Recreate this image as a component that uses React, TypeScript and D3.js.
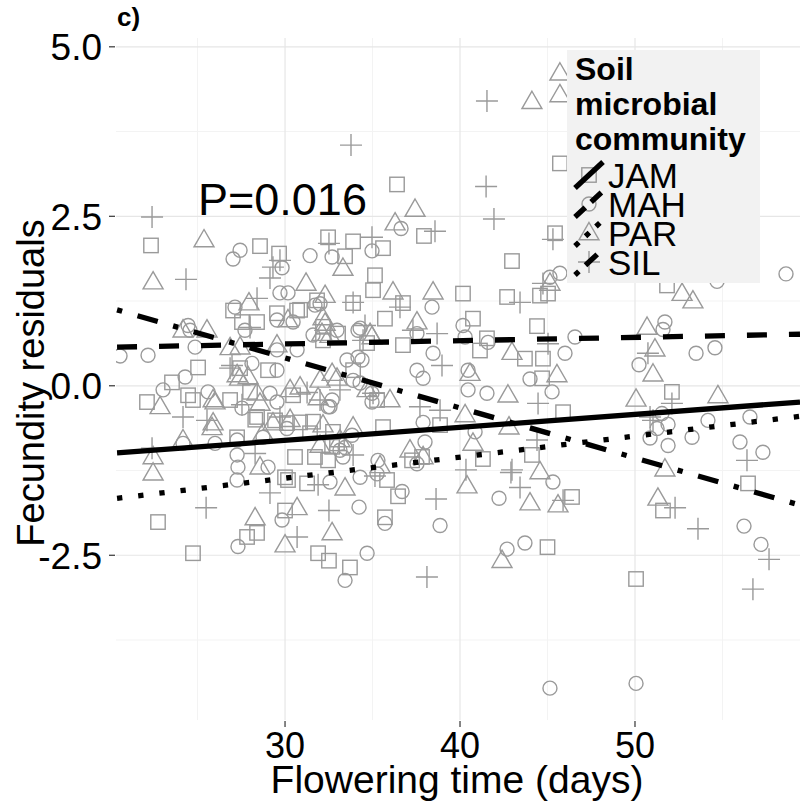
import React from 'react';
import * as d3 from 'd3';

type Pt = [number, number];

const groups = ['JAM', 'MAH', 'PAR', 'SIL'];

const jamPoints: Pt[] = [[22.34,2.07],[28.57,2.06],[29.66,1.95],[27.03,1.11],[30.69,1.11],[36.4,2.97],[45.71,3.28],[37.94,2.21],[35.6,2.03],[42.97,1.84],[45.43,2.25],[22.11,-0.24],[23.54,0.05],[24.74,-0.21],[22.74,-2.01],[24.74,-2.47],[27.26,-0.76],[30.0,-1.35],[30.17,-1.39],[30.0,-1.84],[28.4,-2.17],[27.83,-2.23],[28.4,-0.46],[35.14,1.63],[35.03,1.41],[31.83,1.26],[33.89,1.22],[29.54,1.07],[30.86,1.12],[32.17,0.87],[33.03,0.77],[34.69,0.63],[27.54,0.94],[28.4,0.94],[25.03,0.27],[27.43,0.26],[28.3,-0.5],[30.86,-0.54],[30.11,-0.55],[32.17,0.67],[33.89,0.23],[31.6,-0.53],[31.43,-0.7],[32.97,-0.85],[24.46,-0.14],[32.69,-0.9],[32.46,2.19],[33.89,2.13],[33.43,1.91],[36.74,1.22],[40.17,1.36],[35.71,0.99],[40.74,0.99],[36.74,0.6],[41.14,0.52],[41.54,0.7],[42.69,1.31],[44.57,1.33],[45.03,1.36],[51.83,1.48],[44.4,0.88],[43.71,0.4],[44.74,0.4],[44.69,0.11],[45.89,-0.39],[52.11,-0.09],[44.11,-1.02],[46.4,-1.64],[51.6,-1.84],[56.46,-1.44],[50.06,-2.85],[45.0,-2.38],[31.26,-1.44],[35.83,-1.39],[36.46,-1.63],[35.71,-1.94],[31.89,-2.47],[32.51,-2.58],[33.71,-2.68],[41.31,-1.08],[38.86,-0.58],[37.26,-1.1],[37.83,-1.05],[35.6,-0.61],[31.71,-1.05],[32.46,-1.1],[32.74,-0.68],[35.26,-0.21],[29.03,0.23],[30.46,-0.14],[29.43,-0.51],[28.0,-0.09],[26.86,-0.21],[30.57,-1.05]];

const mahPoints: Pt[] = [[27.43,2.0],[27.03,1.87],[29.83,1.74],[29.71,1.37],[30.17,1.37],[27.14,1.16],[24.46,0.89],[24.86,0.57],[22.17,0.45],[20.57,0.44],[36.63,2.32],[45.14,1.6],[23.03,-0.06],[24.29,0.13],[25.6,-0.09],[24.17,-0.85],[26.0,-0.85],[27.26,-1.02],[27.31,-1.2],[27.26,-1.39],[28.74,-0.76],[29.03,-1.2],[29.83,-1.98],[27.31,-2.37],[28.11,0.33],[27.54,-0.33],[32.0,1.21],[29.54,0.97],[30.46,0.94],[31.6,0.75],[32.97,0.82],[34.17,0.82],[24.57,0.82],[27.71,0.82],[29.54,0.53],[30.69,0.53],[29.54,0.23],[29.14,-0.11],[29.54,-0.24],[32.69,-0.21],[32.57,-0.31],[34.29,0.04],[33.89,0.08],[34.97,-0.24],[34.17,0.42],[34.4,0.38],[33.54,0.38],[27.26,-0.8],[30.11,-0.63],[33.14,-0.95],[31.43,1.92],[32.69,1.9],[34.97,1.99],[31.71,1.19],[38.4,1.16],[40.17,0.89],[40.29,0.72],[37.54,0.77],[34.29,0.85],[38.46,0.48],[41.6,0.64],[45.71,1.66],[54.69,1.54],[46.57,0.72],[51.71,0.94],[51.6,0.83],[46.0,0.48],[53.49,0.48],[54.57,0.56],[50.23,0.31],[44.0,0.1],[45.26,-0.09],[51.54,-0.41],[51.89,-0.57],[51.26,-0.63],[54.17,-0.51],[56.57,-0.46],[50.86,-0.77],[51.89,-0.88],[53.26,-0.76],[56.0,-0.83],[57.31,-0.98],[45.31,-1.42],[56.23,-2.07],[57.2,-2.34],[50.06,-4.39],[45.14,-4.46],[32.57,-1.42],[34.29,-1.35],[35.26,-1.3],[36.69,-1.56],[34.23,-1.79],[35.71,-2.03],[38.86,-2.06],[34.69,-2.47],[33.43,-2.87],[42.23,-1.66],[42.69,-2.41],[43.71,-2.32],[40.86,-0.68],[40.46,-0.06],[41.54,-0.11],[40.46,0.23],[37.89,-0.54],[38.0,-0.83],[37.54,-1.15],[35.31,-1.1],[33.31,-1.05],[33.43,-0.91],[33.83,-0.73],[32.46,-0.31],[34.97,-0.11],[37.89,0.11],[37.54,0.23],[58.63,1.65]];

const parPoints: Pt[] = [[45.71,4.61],[45.71,4.29],[44.11,4.19],[37.43,2.6],[36.29,2.4],[25.37,2.15],[22.46,1.53],[27.94,1.22],[30.17,0.97],[24.17,0.82],[25.54,0.82],[22.86,-0.31],[26.0,-0.24],[25.83,-0.62],[24.17,-0.8],[22.46,-1.05],[22.46,-1.29],[27.4,0.11],[28.57,-0.26],[28.57,-1.2],[30.69,-1.8],[28.29,-1.95],[30.0,-2.35],[33.31,1.73],[31.2,1.51],[32.29,1.33],[32.17,1.0],[34.97,0.72],[26.86,0.56],[27.43,0.57],[29.54,0.6],[25.89,-0.21],[27.26,0.16],[27.89,0.13],[28.4,-0.11],[29.31,-0.55],[30.29,-0.5],[30.86,-0.02],[30.29,-0.06],[32.0,0.08],[32.69,0.18],[32.97,0.11],[31.89,-0.18],[34.69,-0.06],[33.89,-0.61],[32.17,-0.58],[33.14,-0.8],[28.74,-0.7],[25.89,-0.55],[32.0,-0.88],[36.17,1.38],[38.46,1.38],[32.29,0.92],[32.11,0.77],[32.57,0.74],[37.54,0.94],[34.86,0.77],[45.14,1.51],[52.69,1.36],[53.31,1.25],[50.69,0.86],[42.97,0.49],[51.14,0.54],[51.03,0.17],[45.54,0.16],[42.74,-0.14],[50.06,-0.2],[54.74,-0.15],[42.8,-0.61],[44.57,-1.27],[51.71,-1.23],[45.6,-1.76],[51.31,-1.66],[33.43,-1.51],[35.43,-1.18],[32.69,-2.17],[40.4,-1.48],[42.4,-2.58],[40.74,-0.85],[40.29,-0.43],[40.57,0.18],[37.14,-0.95],[37.89,-1.05],[36.0,-0.21],[44.0,-1.73]];

const silPoints: Pt[] = [[41.54,4.2],[33.77,3.55],[41.49,2.94],[41.94,2.46],[38.57,2.28],[45.31,2.16],[22.4,2.49],[24.34,1.57],[29.71,1.85],[29.14,1.59],[28.4,1.29],[25.54,-0.51],[22.4,-0.92],[25.49,-1.8],[28.29,-1.0],[29.14,-1.58],[30.69,-2.23],[26.97,0.3],[29.31,1.75],[33.89,1.23],[28.0,0.86],[26.86,0.26],[31.26,-0.1],[27.54,-0.28],[29.71,-0.46],[32.0,-0.21],[35.03,-0.11],[34.46,0.67],[24.17,-0.46],[32.51,2.1],[34.97,2.19],[36.57,1.16],[34.57,0.89],[37.31,0.82],[38.69,0.77],[43.43,1.23],[44.74,1.51],[45.03,0.62],[50.74,0.48],[44.46,-0.26],[50.86,-0.46],[52.11,-0.26],[56.4,-1.1],[44.4,-0.8],[42.97,-1.24],[45.89,-1.69],[52.29,-1.8],[53.6,-2.11],[57.66,-2.56],[56.74,-3.0],[31.89,-1.46],[35.14,-1.33],[32.51,-1.84],[38.63,-1.67],[38.11,-2.82],[40.34,-1.24],[42.91,-1.28],[43.43,-1.5],[33.89,-1.02],[33.14,-0.06],[38.97,0.3],[37.71,-0.31],[38.86,-0.36],[51.03,-0.51]];

// fitted trend lines: values at the two ends of the x range
const trendX = [20.4, 59.43];
const jamTrend = [-0.99, -0.24];
const mahTrend = [0.57, 0.76];
const parTrend = [-1.66, -0.45];
const silTrend = [1.12, -1.76];

const xTicks = [30, 40, 50];
const xMinor = [25, 35, 45, 55];
const yTicks = [-2.5, 0, 2.5, 5];
const yTickLabels = ['-2.5', '0.0', '2.5', '5.0'];
const yMinor = [-3.75, -1.25, 1.25, 3.75];

const pValueText = 'P=0.016';
const panelTag = 'c)';
const xTitle = 'Flowering time (days)';
const yTitle = 'Fecundity residuals';
const legendTitle = ['Soil', 'microbial', 'community'];

const FONT = "'Liberation Sans', Arial, Helvetica, sans-serif";
const PT = '#9a9a9a';

const dashes: Record<string, string | undefined> = {
  JAM: undefined,
  MAH: '20,22',
  PAR: '5.3,16',
  SIL: '5.3,16,21,16',
};

function Shape({ g, cx, cy }: { g: string; cx: number; cy: number }) {
  const sw = 1.4;
  if (g === 'JAM') return <rect x={cx - 7.2} y={cy - 7.2} width={14.4} height={14.4} fill="none" stroke={PT} strokeWidth={sw} />;
  if (g === 'MAH') return <circle cx={cx} cy={cy} r={7} fill="none" stroke={PT} strokeWidth={sw} />;
  if (g === 'PAR') return <path d={`M${cx},${cy - 10.5}L${cx + 10},${cy + 6.8}L${cx - 10},${cy + 6.8}Z`} fill="none" stroke={PT} strokeWidth={sw} />;
  return <path d={`M${cx - 11},${cy}H${cx + 11}M${cx},${cy - 11}V${cy + 11}`} fill="none" stroke={PT} strokeWidth={sw} />;
}

export default function App() {
  const W = 800, H = 805;
  const left = 116, right = 800, top = 38, bottom = 720;
  const x = d3.scaleLinear().domain([20.34, 59.43]).range([left, right]);
  const y = d3.scaleLinear().domain([-4.93, 5.13]).range([bottom, top]);

  const series: { g: string; pts: Pt[]; trend: number[] }[] = [
    { g: 'JAM', pts: jamPoints, trend: jamTrend },
    { g: 'MAH', pts: mahPoints, trend: mahTrend },
    { g: 'PAR', pts: parPoints, trend: parTrend },
    { g: 'SIL', pts: silPoints, trend: silTrend },
  ];
  const line = d3.line<[number, number]>().x(d => x(d[0])).y(d => y(d[1]));

  const legX = 567, legY = 50, legW = 193, legH = 233;
  const keyCx = 589;
  const keyY = [175, 204, 233, 262];

  return (
    <svg width={W} height={H} style={{ position: 'absolute', left: 0, top: 0, background: '#fff' }} fontFamily={FONT}>
      <defs>
        <clipPath id="panel"><rect x={left} y={top} width={right - left} height={bottom - top} /></clipPath>
      </defs>
      <rect x={0} y={0} width={W} height={H} fill="#fff" />
      {/* grid */}
      {yMinor.map(v => <line key={'ym' + v} x1={left} x2={right} y1={y(v)} y2={y(v)} stroke="#f3f3f3" strokeWidth={1} />)}
      {xMinor.map(v => <line key={'xm' + v} x1={x(v)} x2={x(v)} y1={top} y2={bottom} stroke="#f3f3f3" strokeWidth={1} />)}
      {yTicks.map(v => <line key={'yg' + v} x1={left} x2={right} y1={y(v)} y2={y(v)} stroke="#e6e6e6" strokeWidth={1.2} />)}
      {xTicks.map(v => <line key={'xg' + v} x1={x(v)} x2={x(v)} y1={top} y2={bottom} stroke="#e6e6e6" strokeWidth={1.2} />)}

      <g clipPath="url(#panel)">
        {series.map(s => s.pts.map((p, i) => <Shape key={s.g + i} g={s.g} cx={x(p[0])} cy={y(p[1])} />))}
        {series.map(s => (
          <path key={'l' + s.g} d={line(trendX.map((v, i) => [v, s.trend[i]] as [number, number])) || ''}
            fill="none" stroke="#000" strokeWidth={5.3} strokeDasharray={dashes[s.g]} strokeLinecap="butt" />
        ))}
      </g>

      {/* P value */}
      <text x={198} y={215} fontSize={45} fill="#000">{pValueText}</text>

      {/* legend */}
      <rect x={legX} y={legY} width={legW} height={legH} fill="#f2f2f2" />
      {legendTitle.map((t, i) => (
        <text key={t} x={575} y={80 + i * 35} fontSize={32} fontWeight="bold" fill="#000">{t}</text>
      ))}
      {groups.map((g, i) => (
        <g key={'k' + g}>
          <Shape g={g} cx={keyCx} cy={keyY[i]} />
          <line x1={keyCx - 14} y1={keyY[i] + 13} x2={keyCx + 14} y2={keyY[i] - 13} stroke="#000" strokeWidth={5.3}
            strokeDasharray={g === 'MAH' ? '14,8' : g === 'PAR' ? '5.3,9' : g === 'SIL' ? '5.3,9,16,9' : undefined} />
          <text x={608} y={keyY[i] + 13} fontSize={35} fill="#000">{g}</text>
        </g>
      ))}

      {/* axes ticks */}
      {yTicks.map((v, i) => (
        <g key={'yt' + v}>
          <line x1={left - 7} x2={left - 1} y1={y(v)} y2={y(v)} stroke="#333" strokeWidth={1.2} />
          <text x={102} y={y(v) + 13.5} fontSize={37} textAnchor="end" fill="#000">{yTickLabels[i]}</text>
        </g>
      ))}
      {xTicks.map(v => (
        <g key={'xt' + v}>
          <line x1={x(v)} x2={x(v)} y1={bottom + 1} y2={bottom + 7} stroke="#333" strokeWidth={1.2} />
          <text x={x(v)} y={758} fontSize={36} textAnchor="middle" fill="#000">{v}</text>
        </g>
      ))}

      <text x={457} y={793} fontSize={39} textAnchor="middle" fill="#000">{xTitle}</text>
      <text transform={`translate(44,383) rotate(-90)`} fontSize={38} textAnchor="middle" fill="#000">{yTitle}</text>
      <text x={117} y={26} fontSize={26} fontWeight="bold" fill="#000">{panelTag}</text>
    </svg>
  );
}
